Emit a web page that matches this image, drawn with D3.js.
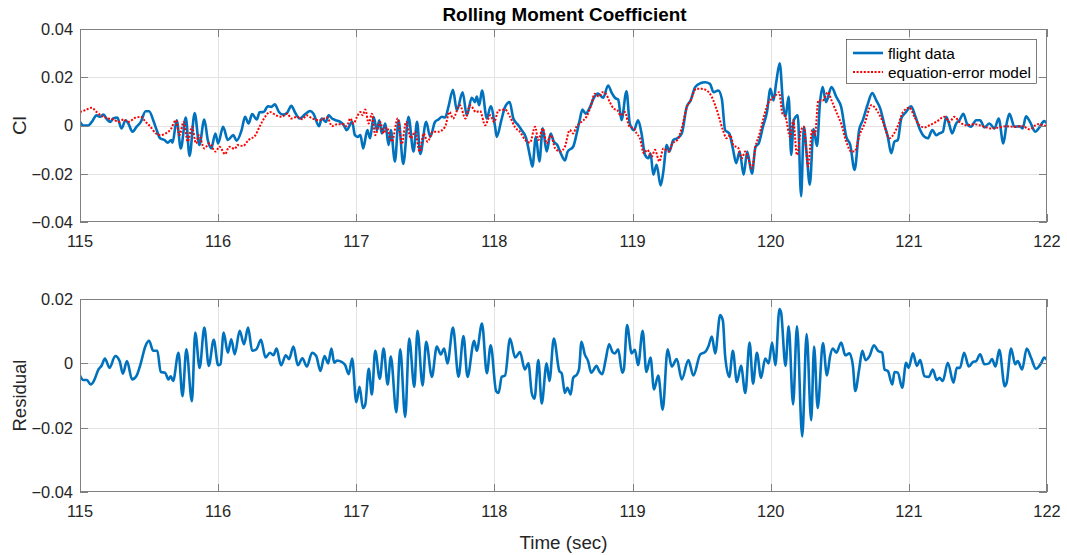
<!DOCTYPE html>
<html><head><meta charset="utf-8">
<script src="https://cdn.jsdelivr.net/npm/d3@7"></script>
<style>body{margin:0;background:#fff}svg{display:block}text{font-family:"Liberation Sans",Arial,Helvetica,sans-serif}</style>
</head><body><svg id="c" width="1067" height="555"></svg>
<script>
const xTicks = [115,116,117,118,119,120,121,122];
const topYTicks = [-0.04,-0.02,0,0.02,0.04];
const botYTicks = [-0.04,-0.02,0,0.02];
const titleText = "Rolling Moment Coefficient";
const seriesNames = ["flight data","equation-error model"];

const flightT = [115.0,115.024,115.06,115.085,115.12,115.146,115.17,115.195,115.22,115.24,115.27,115.30,115.33,115.35,115.38,115.41,115.44,115.475,115.50,115.53,115.555,115.58,115.61,115.635,115.66,115.67,115.70,115.73,115.766,115.793,115.83,115.864,115.90,115.925,115.95,115.98,116.0,116.036,116.07,116.11,116.134,116.17,116.195,116.22,116.246,116.28,116.30,116.33,116.36,116.385,116.41,116.44,116.47,116.50,116.53,116.555,116.59,116.63,116.666,116.69,116.73,116.75,116.78,116.80,116.824,116.85,116.884,116.91,116.93,116.97,116.99,117.01,117.03,117.05,117.08,117.10,117.125,117.15,117.166,117.185,117.21,117.234,117.25,117.28,117.306,117.34,117.378,117.414,117.44,117.463,117.506,117.535,117.57,117.595,117.62,117.643,117.667,117.70,117.728,117.77,117.80,117.836,117.86,117.872,117.89,117.91,117.945,117.973,118.005,118.017,118.05,118.077,118.11,118.137,118.173,118.197,118.23,118.258,118.275,118.30,118.325,118.35,118.378,118.407,118.43,118.455,118.48,118.51,118.53,118.57,118.593,118.617,118.637,118.66,118.69,118.72,118.75,118.787,118.823,118.85,118.872,118.896,118.92,118.956,118.98,119.01,119.04,119.065,119.09,119.114,119.13,119.15,119.174,119.203,119.223,119.247,119.266,119.295,119.324,119.356,119.392,119.42,119.453,119.49,119.525,119.56,119.586,119.62,119.646,119.67,119.70,119.726,119.75,119.775,119.804,119.83,119.864,119.89,119.913,119.944,119.973,119.998,120.02,120.04,120.065,120.09,120.107,120.13,120.148,120.167,120.196,120.22,120.24,120.26,120.283,120.31,120.335,120.356,120.376,120.40,120.44,120.475,120.51,120.547,120.576,120.607,120.64,120.667,120.70,120.735,120.764,120.793,120.824,120.848,120.872,120.896,120.92,120.945,120.98,121.017,121.048,121.077,121.113,121.137,121.17,121.198,121.22,121.246,121.27,121.294,121.313,121.342,121.366,121.395,121.42,121.45,121.487,121.516,121.547,121.583,121.62,121.65,121.684,121.708,121.728,121.764,121.80,121.824,121.848,121.877,121.916,121.945,121.98,122.0];
const flightV = [0.0015,0.0,0.0,0.0015,0.0042,0.0036,0.0045,0.0026,0.0015,0.0029,0.0033,-0.0012,0.0022,0.0008,-0.0026,-0.0005,0.0015,0.0059,0.0059,0.0022,-0.0019,-0.0053,-0.006,-0.0071,-0.006,-0.0071,0.0022,-0.0095,0.0033,-0.0126,0.0052,-0.0081,0.0025,-0.006,-0.0095,-0.0033,-0.0074,-0.0005,-0.006,-0.004,-0.0063,-0.0019,0.0036,0.0008,0.0047,0.0025,0.0055,0.0056,0.008,0.0077,0.0088,0.0056,0.0045,0.0053,0.0082,0.0056,0.0029,0.0047,0.006,0.0049,-0.0003,0.0029,0.0015,0.0042,0.0029,0.0022,0.0015,0.0001,-0.0019,0.0015,-0.004,-0.0047,-0.004,-0.0095,-0.0019,-0.0053,0.0036,-0.0019,0.0022,-0.0033,0.0008,-0.0081,-0.0019,-0.0149,0.0022,-0.0159,0.0036,-0.0108,0.0015,-0.0118,0.0015,-0.0047,0.0015,0.0025,0.0036,0.0033,0.0077,0.0148,0.0063,0.0138,0.0042,0.0115,0.0097,0.012,0.0084,0.0145,0.0029,0.008,-0.0005,-0.0047,0.0022,0.0077,0.0097,0.0029,0.0001,-0.0019,-0.0053,-0.0129,-0.017,-0.0047,-0.0149,-0.0012,-0.0108,-0.0033,-0.0067,-0.0081,-0.0115,-0.0145,-0.0108,-0.0088,-0.004,0.0022,0.0066,0.0049,0.0074,0.0115,0.0132,0.0115,0.0166,0.0134,0.0115,0.0107,0.0022,0.0142,0.0008,-0.0019,0.0022,-0.0033,-0.0122,-0.0136,-0.0115,-0.0204,-0.0163,-0.0249,-0.019,-0.0081,-0.0108,-0.006,-0.0053,-0.0033,0.0077,0.0104,0.0159,0.0175,0.0179,0.0173,0.0138,0.0145,0.0111,-0.0019,-0.0033,-0.0095,-0.0156,-0.0108,-0.0204,-0.0108,-0.02,-0.0088,-0.0074,-0.0005,0.0056,0.0152,0.0104,0.0179,0.0258,0.0084,0.0036,0.012,-0.0122,0.0022,0.0042,-0.0293,-0.0005,-0.0115,-0.0245,-0.0015,-0.0085,0.009,0.0159,0.0097,0.0159,0.0118,0.0077,-0.0047,-0.0081,-0.0184,-0.0019,0.0022,0.0084,0.0134,0.0104,0.007,0.0001,-0.0047,-0.0115,-0.0067,-0.006,0.0029,0.0056,0.008,0.0036,-0.0012,-0.0047,-0.0053,-0.0019,-0.004,-0.0033,-0.0026,0.0036,0.0001,-0.0033,0.0008,0.0022,0.0049,0.0008,-0.0005,0.0022,0.0022,-0.0008,0.0008,-0.0012,0.0029,-0.0074,0.0008,0.0049,-0.0005,-0.0003,-0.0012,0.0038,0.0015,-0.0026,-0.0008,0.0018,0.0008];

const modelT = [115.0,115.036,115.085,115.12,115.17,115.207,115.243,115.28,115.316,115.35,115.40,115.44,115.475,115.51,115.55,115.585,115.62,115.657,115.694,115.72,115.75,115.78,115.81,115.84,115.86,115.90,115.937,115.98,116.01,116.05,116.08,116.12,116.14,116.18,116.22,116.27,116.30,116.34,116.375,116.42,116.46,116.50,116.53,116.57,116.61,116.64,116.68,116.73,116.79,116.824,116.86,116.91,116.93,116.957,116.98,117.005,117.03,117.046,117.065,117.09,117.113,117.137,117.173,117.198,117.22,117.258,117.30,117.33,117.36,117.395,117.426,117.458,117.487,117.516,117.554,117.595,117.643,117.675,117.70,117.75,117.79,117.824,117.867,117.896,117.933,117.97,117.998,118.03,118.077,118.113,118.15,118.185,118.22,118.258,118.294,118.318,118.35,118.378,118.407,118.44,118.475,118.51,118.545,118.57,118.593,118.63,118.666,118.70,118.726,118.758,118.782,118.806,118.835,118.864,118.89,118.913,118.944,118.976,119.01,119.03,119.053,119.082,119.107,119.138,119.162,119.194,119.223,119.26,119.29,119.324,119.356,119.392,119.42,119.46,119.50,119.537,119.574,119.598,119.622,119.654,119.68,119.707,119.73,119.767,119.79,119.816,119.84,119.864,119.89,119.92,119.95,119.985,120.01,120.035,120.06,120.085,120.107,120.14,120.163,120.19,120.22,120.24,120.27,120.30,120.32,120.345,120.378,120.414,120.44,120.475,120.51,120.547,120.583,120.607,120.643,120.68,120.728,120.776,120.812,120.86,120.896,120.927,120.957,121.005,121.04,121.077,121.113,121.15,121.198,121.258,121.294,121.33,121.366,121.414,121.475,121.535,121.595,121.655,121.70,121.764,121.824,121.872,121.933,122.0];
const modelV = [0.0056,0.0063,0.0074,0.0056,0.0036,0.0029,0.0025,0.0015,0.0025,0.0015,0.0032,0.0036,0.0015,-0.0005,-0.0033,-0.004,-0.0033,-0.0016,0.0022,-0.004,0.0015,-0.0067,-0.0005,-0.0074,-0.004,-0.0095,-0.0074,-0.0108,-0.0088,-0.0119,-0.0088,-0.0097,-0.0081,-0.0085,-0.006,-0.004,-0.0005,0.0036,0.0056,0.0042,0.0036,0.0049,0.0029,0.0036,0.0026,0.0042,0.0029,0.0022,0.0033,-0.0003,0.0005,0.0005,-0.0003,0.0029,0.0008,0.0036,0.0056,0.0042,0.0066,0.0008,0.0049,-0.004,0.0015,-0.0033,-0.0008,-0.0067,0.0029,-0.0077,0.0015,-0.0053,-0.0026,-0.0108,-0.0033,-0.0067,-0.0026,-0.0026,-0.0005,0.0056,0.0029,0.0084,0.0029,0.0084,0.0056,0.006,0.0001,0.0042,0.0015,0.0063,0.0066,0.0036,-0.0008,-0.0026,-0.0058,-0.0071,-0.0005,-0.006,-0.0012,-0.0074,-0.004,-0.0095,-0.0108,-0.0088,-0.0019,-0.0033,-0.0005,0.0015,0.0036,0.0084,0.0132,0.012,0.0138,0.0132,0.0097,0.007,0.0063,0.0042,0.0056,-0.0003,-0.0012,-0.0033,-0.0053,-0.0115,-0.0101,-0.0129,-0.0101,-0.0149,-0.0095,-0.0108,-0.0074,-0.006,-0.0012,0.0074,0.0104,0.0152,0.0152,0.0145,0.0118,0.0084,0.0042,-0.0019,-0.0053,-0.004,-0.0081,-0.0095,-0.0136,-0.0108,-0.0142,-0.0177,-0.0088,-0.0033,0.0036,0.0097,0.0111,0.0125,0.0138,0.0049,0.0036,-0.0047,0.0022,-0.0122,-0.0019,-0.0005,-0.017,-0.0019,-0.004,0.0104,0.0104,0.0138,0.0104,0.0056,0.0008,-0.0067,-0.0108,-0.0108,-0.004,0.0008,0.0084,0.0056,0.0015,-0.0053,-0.003,0.0008,0.0056,0.0074,0.0036,0.0001,-0.0008,0.0001,0.0015,0.0036,0.0015,0.0036,0.0015,0.0001,0.0005,-0.0003,-0.0012,-0.0008,-0.0003,-0.0005,-0.0003,-0.0016,0.0005,-0.0003];

const residT = [115.0,115.024,115.05,115.078,115.10,115.134,115.158,115.18,115.214,115.255,115.287,115.31,115.34,115.377,115.41,115.438,115.474,115.50,115.53,115.56,115.584,115.616,115.64,115.657,115.674,115.713,115.742,115.77,115.81,115.834,115.866,115.90,115.932,115.968,116.0,116.017,116.04,116.07,116.095,116.12,116.156,116.187,116.217,116.246,116.277,116.31,116.343,116.375,116.40,116.423,116.455,116.49,116.513,116.545,116.577,116.61,116.642,116.68,116.71,116.74,116.77,116.796,116.82,116.84,116.86,116.896,116.92,116.945,116.97,117.0,117.024,117.048,117.065,117.09,117.113,117.137,117.17,117.198,117.227,117.25,117.29,117.318,117.354,117.383,117.42,117.443,117.48,117.506,117.547,117.583,117.612,117.636,117.66,117.70,117.74,117.776,117.805,117.853,117.872,117.91,117.945,117.973,118.012,118.03,118.053,118.077,118.113,118.15,118.185,118.22,118.246,118.27,118.29,118.318,118.342,118.378,118.398,118.43,118.47,118.487,118.51,118.528,118.552,118.57,118.598,118.613,118.63,118.654,118.678,118.70,118.74,118.758,118.78,118.806,118.83,118.855,118.872,118.896,118.925,118.937,118.96,118.993,119.017,119.04,119.073,119.10,119.13,119.155,119.186,119.218,119.254,119.283,119.32,119.356,119.404,119.44,119.49,119.525,119.55,119.574,119.598,119.634,119.654,119.67,119.70,119.726,119.755,119.785,119.816,119.847,119.872,119.90,119.93,119.96,119.985,120.01,120.034,120.063,120.075,120.107,120.13,120.162,120.19,120.228,120.26,120.293,120.314,120.34,120.378,120.407,120.43,120.45,120.475,120.51,120.54,120.57,120.595,120.612,120.64,120.663,120.687,120.716,120.747,120.776,120.807,120.824,120.848,120.88,120.896,120.92,120.952,120.98,120.998,121.03,121.058,121.082,121.113,121.145,121.173,121.202,121.222,121.246,121.282,121.323,121.347,121.37,121.40,121.434,121.463,121.487,121.516,121.547,121.58,121.602,121.627,121.655,121.694,121.708,121.74,121.77,121.788,121.82,121.853,121.884,121.92,121.957,121.98,122.0];
const residV = [-0.0038,-0.0052,-0.0052,-0.0066,-0.0055,-0.0019,-0.0006,0.0015,-0.0014,0.0023,0.0007,-0.0032,0.0007,-0.005,-0.0038,-0.0003,0.0054,0.007,0.0039,0.0039,-0.0027,-0.0029,-0.005,-0.004,-0.0055,0.0033,-0.0102,0.0044,-0.0118,0.0096,-0.0014,0.0111,-0.0008,0.0073,-0.0006,-0.0003,0.0096,0.0033,0.0075,0.0028,0.0101,0.0059,0.0111,0.0039,0.0044,0.0073,0.0018,0.0033,0.0025,0.0046,-0.0006,0.0025,0.0013,0.0052,-0.0006,0.0016,-0.001,0.0033,0.0023,-0.0024,0.0023,0.0,0.0046,0.0002,0.0009,0.0004,-0.0006,-0.0034,0.0015,-0.0121,-0.0073,-0.0139,-0.0128,-0.0017,-0.0097,0.0039,-0.0048,0.0046,-0.0066,0.0021,-0.0152,0.0044,-0.0167,0.0077,-0.0073,0.0101,-0.0069,0.0067,-0.0042,0.0052,0.0028,0.0046,0.0,0.0111,-0.0042,0.0085,-0.0042,0.007,0.0039,0.0124,-0.0031,0.0056,-0.0086,-0.0092,-0.0042,-0.0038,0.0077,0.0018,0.0035,-0.0019,0.0,-0.0092,-0.011,0.001,-0.0125,0.0,-0.0055,0.0077,-0.0024,-0.0031,-0.0092,-0.0076,-0.0097,-0.0045,-0.0034,-0.0017,0.0067,0.0028,0.0007,-0.0029,-0.0008,-0.0024,-0.0034,0.0013,0.0059,0.0035,0.0031,0.0044,-0.0029,-0.0019,0.0119,0.0031,0.0042,-0.0006,0.0101,-0.0027,0.0018,-0.0081,-0.0038,-0.0144,0.0044,-0.001,0.0013,-0.005,0.001,-0.0038,0.0028,0.0035,0.0054,0.0083,0.0031,0.015,0.0132,0.0023,-0.0042,0.0039,-0.0058,-0.0008,-0.0092,0.0065,-0.0063,0.0033,-0.0045,0.0015,0.0,0.0065,-0.0006,0.0169,0.0158,-0.0008,0.0115,-0.0128,0.0115,-0.0227,0.0091,-0.0177,0.0052,-0.0139,0.0063,-0.0038,0.0023,0.0046,0.0033,0.0065,0.0025,0.0031,-0.0008,-0.0086,-0.0019,0.0039,0.001,0.0023,0.0056,0.0039,0.0033,-0.0019,-0.0024,-0.0066,-0.0027,-0.0029,-0.0076,0.0002,-0.0014,0.0031,-0.0008,0.001,-0.004,-0.0042,-0.0019,-0.0052,-0.0045,-0.0055,0.0002,-0.006,-0.0014,-0.0014,0.0033,-0.001,0.0004,0.0007,0.0028,-0.0003,0.0,0.0013,-0.001,0.0042,-0.0071,-0.006,0.0046,-0.0003,0.0007,-0.0019,0.0046,0.0018,-0.0017,0.0,0.0018,0.001];

const svg = d3.select("#c");
const L = 80, R = 1047;
const panels = [
  {top:29, bottom:222, yTicks: topYTicks, label:"Cl", labelLen:19},
  {top:299, bottom:492, yTicks: botYTicks, label:"Residual", labelLen:72}
];
const blue = "#0072BD", red = "#FF0000";
const axisCol = "#808080", textCol = "#262626", gridCol = "#e3e3e3";
const tickLen = 8;
const fmt = d => d === 0 ? "0" : d3.format(".2f")(d);

const x = d3.scaleLinear().domain([115,122]).range([L,R]);

panels.forEach((p,i) => {
  const y = d3.scaleLinear().domain([p.yTicks[0], p.yTicks[p.yTicks.length-1]]).range([p.bottom,p.top]);
  p.y = y;
  const g = svg.append("g");
  g.selectAll(".gx").data(xTicks.slice(1,-1)).enter().append("line")
    .attr("x1",d=>Math.round(x(d))+0.5).attr("x2",d=>Math.round(x(d))+0.5)
    .attr("y1",p.top).attr("y2",p.bottom).attr("stroke",gridCol).attr("stroke-width",1);
  g.selectAll(".gy").data(p.yTicks.slice(1,-1)).enter().append("line")
    .attr("y1",d=>Math.round(y(d))+0.5).attr("y2",d=>Math.round(y(d))+0.5)
    .attr("x1",L).attr("x2",R).attr("stroke",gridCol).attr("stroke-width",1);
});

const lineGen = (yS) => d3.line().x(d=>x(d[0])).y(d=>yS(d[1])).curve(d3.curveMonotoneX);
const flight = flightT.map((t,i)=>[t,flightV[i]]);
const model = modelT.map((t,i)=>[t,modelV[i]]);
const resid = residT.map((t,i)=>[t,residV[i]]);

panels.forEach((p,i)=>{
  svg.append("clipPath").attr("id","cp"+i).append("rect").attr("x",L).attr("y",p.top).attr("width",R-L).attr("height",p.bottom-p.top);
});

svg.append("path").datum(flight).attr("d",lineGen(panels[0].y)).attr("fill","none")
  .attr("stroke",blue).attr("stroke-width",2.6).attr("stroke-linejoin","round").attr("clip-path","url(#cp0)");
svg.append("path").datum(model).attr("d",lineGen(panels[0].y)).attr("fill","none")
  .attr("stroke",red).attr("stroke-width",2).attr("stroke-dasharray","2,1.6").attr("clip-path","url(#cp0)");
svg.append("path").datum(resid).attr("d",lineGen(panels[1].y)).attr("fill","none")
  .attr("stroke",blue).attr("stroke-width",2.6).attr("stroke-linejoin","round").attr("clip-path","url(#cp1)");

panels.forEach((p,i) => {
  const y = p.y;
  const g = svg.append("g");
  g.append("rect").attr("x",L+0.5).attr("y",p.top+0.5).attr("width",R-L-1).attr("height",p.bottom-p.top-1)
    .attr("fill","none").attr("stroke",axisCol).attr("stroke-width",1);
  xTicks.forEach(d => {
    const xx = Math.round(x(d))+0.5;
    g.append("line").attr("x1",xx).attr("x2",xx).attr("y1",p.bottom).attr("y2",p.bottom-tickLen).attr("stroke",axisCol);
    g.append("line").attr("x1",xx).attr("x2",xx).attr("y1",p.top).attr("y2",p.top+tickLen).attr("stroke",axisCol);
  });
  p.yTicks.forEach(d => {
    const yy = Math.round(y(d))+0.5;
    g.append("line").attr("x1",L).attr("x2",L+tickLen).attr("y1",yy).attr("y2",yy).attr("stroke",axisCol);
    g.append("line").attr("x1",R).attr("x2",R-tickLen).attr("y1",yy).attr("y2",yy).attr("stroke",axisCol);
  });
  g.selectAll(".xl").data(xTicks).enter().append("text")
    .attr("x",d=>x(d)).attr("y",p.bottom+25).attr("text-anchor","middle")
    .attr("font-size",16.4).attr("fill",textCol).text(d=>d);
  g.selectAll(".yl").data(p.yTicks).enter().append("text")
    .attr("x",L-7).attr("y",d=>y(d)).attr("dy","0.36em").attr("text-anchor","end")
    .attr("font-size",16.4).attr("fill",textCol).text(fmt);
  const cy = (p.top+p.bottom)/2;
  g.append("text").attr("transform",`translate(26,${cy}) rotate(-90)`).attr("text-anchor","middle")
    .attr("font-size",17.5).attr("fill",textCol)
    .attr("textLength",p.labelLen).attr("lengthAdjust","spacingAndGlyphs").text(p.label);
});

svg.append("text").attr("x",(L+R)/2+1).attr("y",21).attr("text-anchor","middle")
  .attr("font-size",17.5).attr("font-weight","bold").attr("fill","#000")
  .attr("textLength",244).attr("lengthAdjust","spacingAndGlyphs").text(titleText);
svg.append("text").attr("x",(L+R)/2).attr("y",549).attr("text-anchor","middle")
  .attr("font-size",17.5).attr("fill",textCol)
  .attr("textLength",88).attr("lengthAdjust","spacingAndGlyphs").text("Time (sec)");

const lg = svg.append("g");
lg.append("rect").attr("x",846.5).attr("y",39.5).attr("width",190).attr("height",44)
  .attr("fill","#fff").attr("stroke","#262626").attr("stroke-width",0.6);
const legY = [53,72];
lg.append("line").attr("x1",853).attr("x2",883).attr("y1",legY[0]).attr("y2",legY[0]).attr("stroke",blue).attr("stroke-width",2.6);
lg.append("line").attr("x1",853).attr("x2",883).attr("y1",legY[1]).attr("y2",legY[1]).attr("stroke",red).attr("stroke-width",2).attr("stroke-dasharray","2,1.6");
seriesNames.forEach((n,i)=>{
  lg.append("text").attr("x",888).attr("y",legY[i]).attr("dy","0.36em").attr("font-size",15.4).attr("fill","#000").text(n);
});
</script></body></html>
